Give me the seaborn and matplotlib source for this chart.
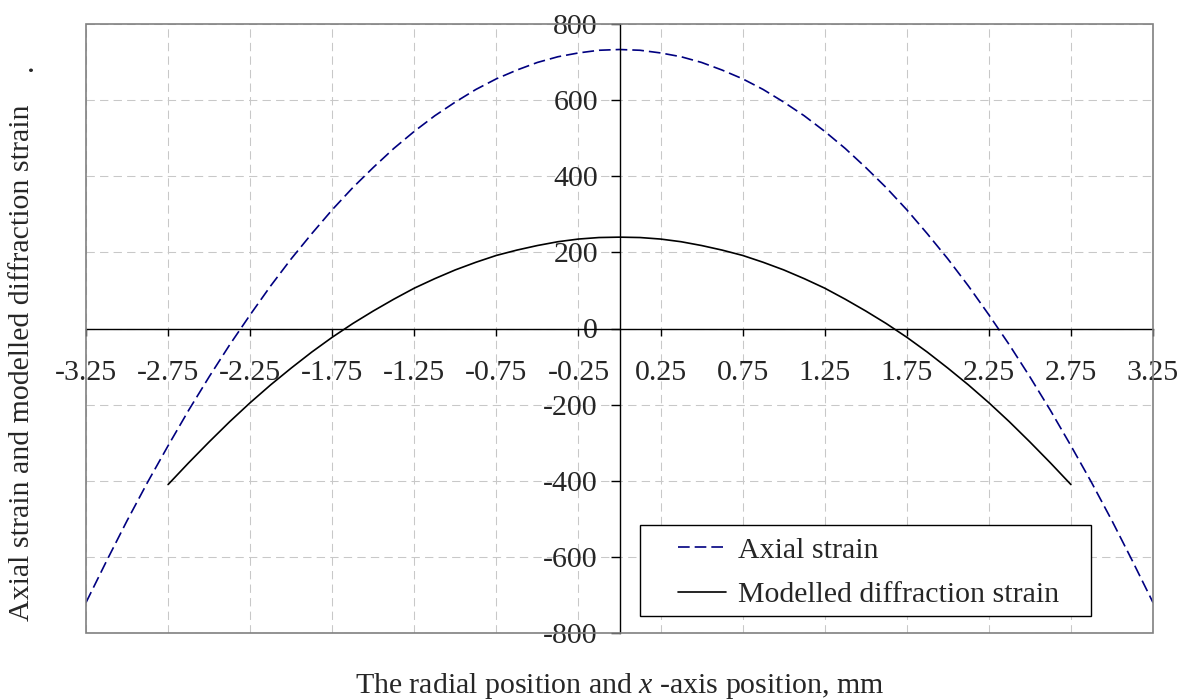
import numpy as np
import pandas as pd
import seaborn as sns
import matplotlib.pyplot as plt
from matplotlib.patches import Rectangle

# values
x_axial = [-3.25, -3.125, -3.0, -2.875, -2.75, -2.625, -2.5, -2.375, -2.25, -2.125, -2.0,
           -1.875, -1.75, -1.625, -1.5, -1.375, -1.25, -1.125, -1.0, -0.875, -0.75, -0.625,
           -0.5, -0.375, -0.25, -0.125, 0.0, 0.125, 0.25, 0.375, 0.5, 0.625, 0.75, 0.875,
           1.0, 1.125, 1.25, 1.375, 1.5, 1.625, 1.75, 1.875, 2.0, 2.125, 2.25, 2.375, 2.5,
           2.625, 2.75, 2.875, 3.0, 3.125, 3.25]
axial_strain = [-720, -611, -505, -404, -308, -215, -127, -43, 36, 112, 183,
                249, 312, 370, 423, 473, 518, 559, 595, 628, 656, 679,
                699, 714, 724, 731, 733, 731, 724, 714, 699, 679, 656, 628,
                595, 559, 518, 473, 423, 370, 312, 249, 183, 112, 36, -43, -127,
                -215, -308, -404, -505, -611, -720]

x_model = [-2.75, -2.625, -2.5, -2.375, -2.25, -2.125, -2.0, -1.875, -1.75, -1.625, -1.5,
           -1.375, -1.25, -1.125, -1.0, -0.875, -0.75, -0.625, -0.5, -0.375, -0.25, -0.125,
           0.0, 0.125, 0.25, 0.375, 0.5, 0.625, 0.75, 0.875, 1.0, 1.125, 1.25, 1.375, 1.5,
           1.625, 1.75, 1.875, 2.0, 2.125, 2.25, 2.375, 2.5, 2.625, 2.75]
model_strain = [-410, -353, -298, -245, -195, -148, -104, -62, -23, 13, 46,
                77, 106, 131, 154, 174, 192, 206, 218, 228, 235, 239,
                240, 239, 235, 228, 218, 206, 192, 174, 154, 131, 106, 77, 46,
                13, -23, -62, -104, -148, -195, -245, -298, -353, -410]

x_ticks = [-3.25, -2.75, -2.25, -1.75, -1.25, -0.75, -0.25, 0.25, 0.75, 1.25, 1.75, 2.25, 2.75, 3.25]
y_ticks = [-800, -600, -400, -200, 0, 200, 400, 600, 800]

sns.set_style("white")
plt.rcParams['font.family'] = ['Liberation Serif', 'DejaVu Serif']
plt.rcParams['mathtext.fontset'] = 'custom'
plt.rcParams['mathtext.rm'] = 'Liberation Serif'
plt.rcParams['mathtext.it'] = 'Liberation Serif:italic'

FS = 21.5

fig = plt.figure(figsize=(11.82, 7.0), dpi=100)
ax = fig.add_axes([86 / 1182, 1 - 633 / 700, 1067 / 1182, 609 / 700])

df_a = pd.DataFrame({'x': x_axial, 'y': axial_strain})
df_m = pd.DataFrame({'x': x_model, 'y': model_strain})
sns.lineplot(data=df_a, x='x', y='y', ax=ax, color='#000080', lw=1.2,
             linestyle=(0, (7, 3)), label='Axial strain')
sns.lineplot(data=df_m, x='x', y='y', ax=ax, color='black', lw=1.2,
             label='Modelled diffraction strain')

ax.set_xlim(-3.25, 3.25)
ax.set_ylim(-800, 800)
ax.set_xticks(x_ticks)
ax.set_xticklabels([f"{t:.2f}" for t in x_ticks])
ax.set_yticks(y_ticks)
ax.set_yticklabels([str(t) for t in y_ticks])
ax.grid(True, color='#c8c8c8', lw=0.75, linestyle=(0, (8, 5)))
ax.set_axisbelow(True)

# axes crossing at zero
ax.spines['left'].set_position(('data', 0))
ax.spines['bottom'].set_position(('data', 0))
for s in ['left', 'bottom']:
    ax.spines[s].set_color('black')
    ax.spines[s].set_linewidth(1.0)
for s in ['top', 'right']:
    ax.spines[s].set_visible(False)
ax.add_patch(Rectangle((0, 0), 1, 1, transform=ax.transAxes, fill=False,
                       edgecolor='#808080', lw=1.2, clip_on=False, zorder=5))

ax.tick_params(axis='x', direction='out', length=5, width=1, pad=18, labelsize=FS, color='black')
ax.tick_params(axis='y', direction='out', length=6.5, width=1, pad=9, labelsize=FS, color='black')
ax.tick_params(axis='both', bottom=True, left=True)
ax.set_xlabel('')
ax.set_ylabel('')

# legend box drawn separately (wider side padding than matplotlib gives)
ax.add_patch(Rectangle((0.5192, 0.0279), 0.9419 - 0.5192, 0.1773 - 0.0279,
                       transform=ax.transAxes, facecolor='white', edgecolor='black',
                       lw=1.0, zorder=4.5))
leg = ax.legend(loc='center left', bbox_to_anchor=((678 - 86) / 1067, (633 - 572.5) / 609),
                borderaxespad=0, borderpad=0, fontsize=FS, frameon=False,
                handlelength=1.6, handletextpad=0.4, labelspacing=0.6)
leg.set_zorder(6)

fig.text(0.5245, 1 - 693 / 700, 'The radial position and $x$ -axis position, mm',
         ha='center', va='baseline', fontsize=FS)
fig.text(0.019, 1 - 363 / 700, 'Axial strain and modelled diffraction strain',
         rotation=90, ha='center', va='center', fontsize=FS)
fig.text(25 / 1182, 1 - 67 / 700, '.', rotation=90, ha='center', va='center', fontsize=FS)

fig.savefig('out.png', dpi=100)
